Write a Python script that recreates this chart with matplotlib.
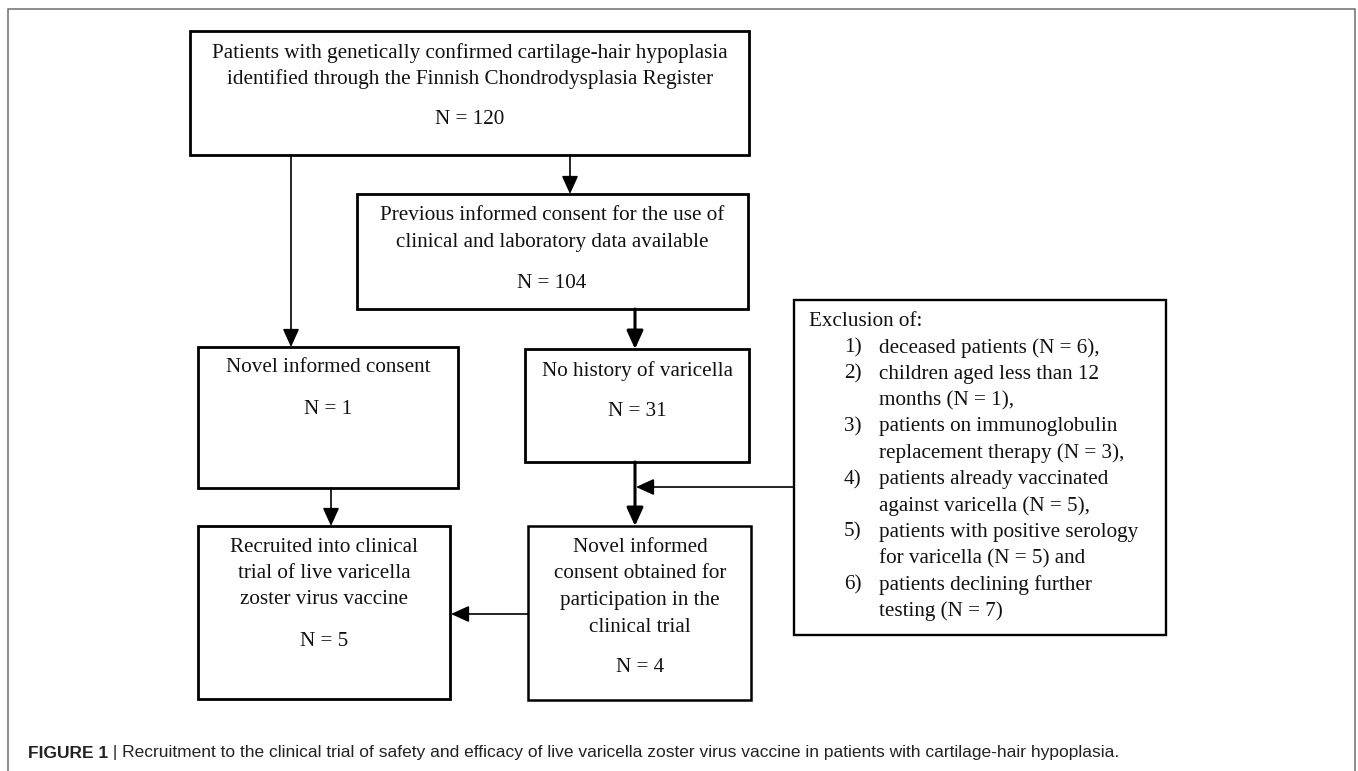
import matplotlib
matplotlib.use("Agg")
import matplotlib.pyplot as plt
from matplotlib.patches import Rectangle
from matplotlib import font_manager

# ---- text content ----
top_lines = ["Patients with genetically confirmed cartilage-hair hypoplasia",
             "identified through the Finnish Chondrodysplasia Register"]
top_n = "N = 120"
prev_lines = ["Previous informed consent for the use of",
              "clinical and laboratory data available"]
prev_n = "N = 104"
novel_lines = ["Novel informed consent"]
novel_n = "N = 1"
nohist_lines = ["No history of varicella"]
nohist_n = "N = 31"
recruit_lines = ["Recruited into clinical", "trial of live varicella",
                 "zoster virus vaccine"]
recruit_n = "N = 5"
obtained_lines = ["Novel informed", "consent obtained for",
                  "participation in the", "clinical trial"]
obtained_n = "N = 4"
excl_title = "Exclusion of:"
excl_nums = ["1)", "2)", "", "3)", "", "4)", "", "5)", "", "6)", ""]
excl_items = ["deceased patients (N = 6),",
              "children aged less than 12",
              "months (N = 1),",
              "patients on immunoglobulin",
              "replacement therapy (N = 3),",
              "patients already vaccinated",
              "against varicella (N = 5),",
              "patients with positive serology",
              "for varicella (N = 5) and",
              "patients declining further",
              "testing (N = 7)"]
caption_bold = "FIGURE 1"
caption_rest = ("Recruitment to the clinical trial of safety and efficacy of live "
                "varicella zoster virus vaccine in patients with cartilage-hair hypoplasia.")

W, H = 1358, 771
fig = plt.figure(figsize=(W / 100, H / 100), dpi=100)
ax = fig.add_axes([0, 0, 1, 1])
ax.set_xlim(0, W)
ax.set_ylim(H, 0)
ax.axis("off")

SERIF = "Liberation Serif"
FS = 15.2
TXT = "#111111"

# caption font: prefer a narrow sans if installed
CAP_FAMILY = "Liberation Sans"
try:
    font_manager.findfont(font_manager.FontProperties(family="Liberation Sans Narrow"),
                          fallback_to_default=False)
    CAP_FAMILY = "Liberation Sans Narrow"
except Exception:
    pass

# outer frame (bottom off-image)
ax.plot([8, 8, 1355, 1355], [H + 5, 8.5, 8.5, H + 5], color="#6e6e6e", lw=1.1,
        solid_joinstyle="miter")


def box(x0, x1, y0, y1, lw=2.0):
    ax.add_patch(Rectangle((x0, y0), x1 - x0, y1 - y0, fill=False,
                           edgecolor="black", lw=lw, joinstyle="miter"))


def lines_at(xc, ys, texts):
    for y, t in zip(ys, texts):
        ax.text(xc, y, t, ha="center", va="center", family=SERIF, fontsize=FS,
                color=TXT)


def arrow(x0, y0, x1, y1, lw=1.2, hl=11, hw=10):
    ax.annotate("", xy=(x1, y1), xytext=(x0, y0),
                arrowprops=dict(arrowstyle="-|>,head_length=%.3f,head_width=%.3f"
                                % (hl / 14.0, hw / 28.0),
                                color="black", lw=lw, shrinkA=0, shrinkB=0,
                                mutation_scale=14))


# boxes
box(190, 749, 31, 155)
lines_at(470, [53, 79, 120], top_lines + [top_n])

box(357, 748, 194, 309)
lines_at(552, [216, 242, 284], prev_lines + [prev_n])

box(198, 458, 347, 488)
lines_at(328, [368, 410], novel_lines + [novel_n])

box(525, 749, 349, 462)
lines_at(637, [371, 412], nohist_lines + [nohist_n])

box(198, 450, 526, 699)
lines_at(324, [547, 574, 600, 641], recruit_lines + [recruit_n])

box(528, 751, 526, 700, lw=1.8)
lines_at(640, [547, 574, 600, 627, 668], obtained_lines + [obtained_n])

box(794, 1166, 300, 635, lw=1.7)
ax.text(809, 322, excl_title, ha="left", va="center", family=SERIF, fontsize=FS,
        color=TXT)
y = 348
for num, item in zip(excl_nums, excl_items):
    if num:
        ax.text(844, y, num, ha="left", va="center", family=SERIF, fontsize=FS,
                color=TXT)
    ax.text(879, y, item, ha="left", va="center", family=SERIF, fontsize=FS,
            color=TXT)
    y += 26.3

# arrows
arrow(291, 155, 291, 347)
arrow(570, 155, 570, 194)
arrow(635, 309, 635, 349, lw=2.2)
arrow(635, 462, 635, 526, lw=2.2)
arrow(794, 487, 636, 487)
arrow(331, 488, 331, 526)
arrow(528, 614, 451, 614)

# caption, sized so it spans the same width as the reference
cap_fs = 12.0
cap = ax.text(28, 753, caption_bold, ha="left", va="center", family=CAP_FAMILY,
              fontsize=cap_fs, fontweight="bold", color="#222222")
rest = ax.annotate(" | " + caption_rest, xy=(1, 0.5), xycoords=cap, ha="left",
                   va="center", family=CAP_FAMILY, fontsize=cap_fs, color="#222222")
fig.canvas.draw()
r = fig.canvas.get_renderer()
x_end = rest.get_window_extent(r).x1
scale = (1117 - 28) / (x_end - 28)
cap.set_fontsize(cap_fs * scale)
rest.set_fontsize(cap_fs * scale)

fig.savefig("out.png", dpi=100, facecolor="white")
